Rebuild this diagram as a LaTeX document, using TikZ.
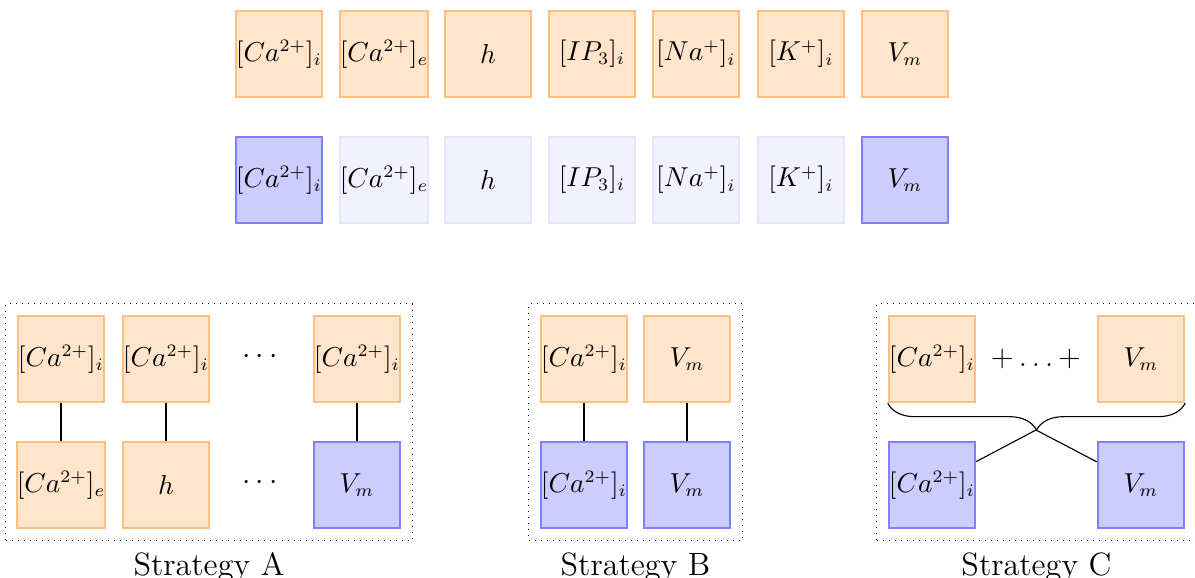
\documentclass[tikz,border=0pt]{standalone}
\usetikzlibrary{decorations.pathreplacing,fit,positioning}
\begin{document}
\begin{tikzpicture}[x=0.40pt,y=-0.40pt,
  base/.style={line width=0.95pt, minimum size=34.4pt, inner sep=0pt, font=\fontsize{10.5}{12}\selectfont},
  obox/.style={base, draw=orange!50, fill=orange!20},
  bbox/.style={base, draw=blue!50, fill=blue!20},
  fbox/.style={base, draw=blue!10, fill=blue!5},
  frame/.style={draw, dotted, inner sep=4.4pt},
  caption/.style={inner sep=4.5pt, font=\fontsize{12.9}{15}\selectfont},
  link/.style={draw, line width=0.45pt}]
\useasboundingbox (0,0) rectangle (1195,578);
% top rows
\node[obox] (t1) at (279,54) {$[Ca^{2+}]_i$};
\node[obox] (t2) at (384,54) {$[Ca^{2+}]_e$};
\node[obox] (t3) at (488,54) {$h$};
\node[obox] (t4) at (592,54) {$[IP_3]_i$};
\node[obox] (t5) at (696,54) {$[Na^{+}]_i$};
\node[obox] (t6) at (801,54) {$[K^{+}]_i$};
\node[obox] (t7) at (905,54) {$V_m$};
\node[bbox] (s1) at (279,180) {$[Ca^{2+}]_i$};
\node[fbox] (s2) at (384,180) {$[Ca^{2+}]_e$};
\node[fbox] (s3) at (488,180) {$h$};
\node[fbox] (s4) at (592,180) {$[IP_3]_i$};
\node[fbox] (s5) at (696,180) {$[Na^{+}]_i$};
\node[fbox] (s6) at (801,180) {$[K^{+}]_i$};
\node[bbox] (s7) at (905,180) {$V_m$};
% Strategy A
\node[obox] (a1) at (61,359) {$[Ca^{2+}]_i$};
\node[obox] (a2) at (166,359) {$[Ca^{2+}]_i$};
\node[font=\large] (ad1) at (260,357) {$\cdots$};
\node[obox] (a3) at (357,359) {$[Ca^{2+}]_i$};
\node[obox] (a4) at (61,485) {$[Ca^{2+}]_e$};
\node[obox] (a5) at (166,485) {$h$};
\node[font=\large] (ad2) at (260,483) {$\cdots$};
\node[bbox] (a6) at (357,485) {$V_m$};
\draw[link] (a1) -- (a4);
\draw[link] (a2) -- (a5);
\draw[link] (a3) -- (a6);
\node[frame, fit=(a1)(a6)] (fa) {};
\node[caption, below=0pt of fa] (la) {Strategy A};
% Strategy B
\node[obox] (b1) at (584,359) {$[Ca^{2+}]_i$};
\node[obox] (b2) at (687,359) {$V_m$};
\node[bbox] (b3) at (584,485) {$[Ca^{2+}]_i$};
\node[bbox] (b4) at (687,485) {$V_m$};
\draw[link] (b1) -- (b3);
\draw[link] (b2) -- (b4);
\node[frame, fit=(b1)(b4)] (fb) {};
\node[caption, below=0pt of fb] (lb) {Strategy B};
% Strategy C
\node[obox] (c1) at (932,359) {$[Ca^{2+}]_i$};
\node[font=\large] (cd) at (1036,359) {$+\ldots+$};
\node[obox] (c2) at (1141,359) {$V_m$};
\node[bbox] (c3) at (932,485) {$[Ca^{2+}]_i$};
\node[bbox] (c4) at (1141,485) {$V_m$};
\draw[link, decorate, decoration={brace, mirror, amplitude=10.8pt}] (c1.south west) -- (c2.south east);
\coordinate (tip) at (1036,430);
\draw[link] (tip) -- (c3);
\draw[link] (tip) -- (c4);
\node[frame, fit=(c1)(c4)] (fc) {};
\node[caption, below=0pt of fc] (lc) {Strategy C};
\end{tikzpicture}
\end{document}
